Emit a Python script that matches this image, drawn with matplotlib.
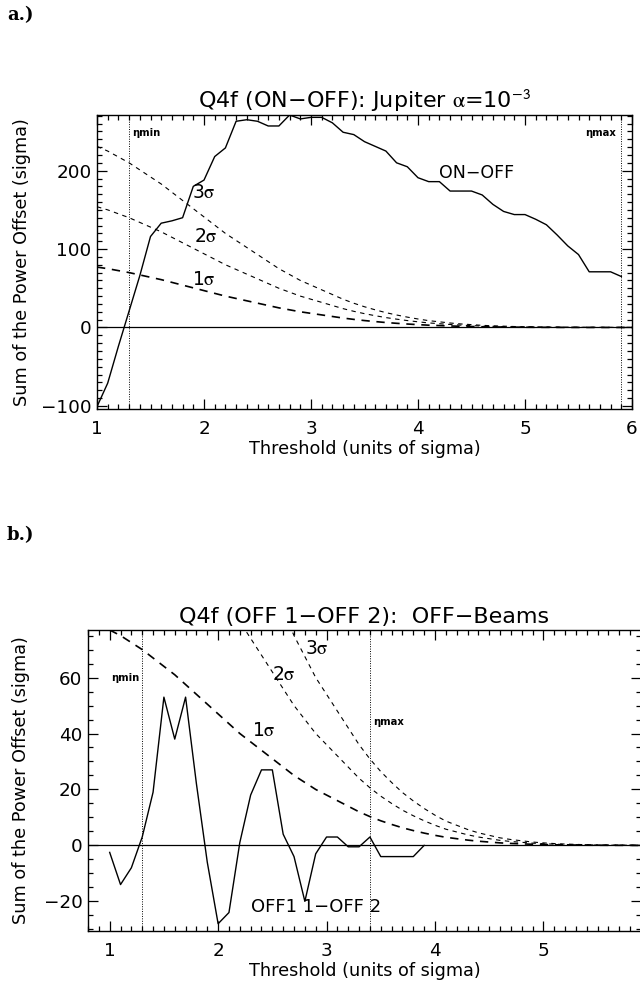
import numpy as np
import matplotlib.pyplot as plt
from matplotlib.ticker import MultipleLocator

plt.rcParams['font.family'] = ['DejaVu Sans']
plt.rcParams['mathtext.fontset'] = 'stix'

# thresholds (units of sigma)
thr_a = [1.0, 1.1, 1.2, 1.3, 1.4, 1.5, 1.6, 1.7, 1.8, 1.9,
         2.0, 2.1, 2.2, 2.3, 2.4, 2.5, 2.6, 2.7, 2.8, 2.9,
         3.0, 3.1, 3.2, 3.3, 3.4, 3.5, 3.6, 3.7, 3.8, 3.9,
         4.0, 4.1, 4.2, 4.3, 4.4, 4.5, 4.6, 4.7, 4.8, 4.9,
         5.0, 5.1, 5.2, 5.3, 5.4, 5.5, 5.6, 5.7, 5.8, 5.9]
on_off = [-101, -71, -24, 21, 66, 116, 133, 136, 140, 180,
          188, 218, 229, 263, 265, 263, 257, 257, 271, 266,
          268, 268, 261, 249, 246, 237, 231, 225, 210, 205,
          191, 186, 186, 174, 174, 174, 169, 157, 148, 144,
          144, 138, 131, 118, 104, 93, 71, 71, 71, 65]

thr_b = [1.0, 1.1, 1.2, 1.3, 1.4, 1.5, 1.6, 1.7, 1.8, 1.9,
         2.0, 2.1, 2.2, 2.3, 2.4, 2.5, 2.6, 2.7, 2.8, 2.9,
         3.0, 3.1, 3.2, 3.3, 3.4, 3.5, 3.6, 3.7, 3.8, 3.9]
off_off = [-2.5, -14, -8, 3, 19, 53, 38, 53, 22, -6,
           -28, -24, 1, 18, 27, 27, 4, -4, -20, -3,
           3, 3, -0.5, -0.5, 3, -4, -4, -4, -4, 0]

# 1 sigma noise level of the summed offset
thr_sig = [1.0, 1.1, 1.2, 1.3, 1.4, 1.5, 1.6, 1.7, 1.8, 1.9,
           2.0, 2.1, 2.2, 2.3, 2.4, 2.5, 2.6, 2.7, 2.8, 2.9,
           3.0, 3.1, 3.2, 3.3, 3.4, 3.5, 3.6, 3.7, 3.8, 3.9,
           4.0, 4.1, 4.2, 4.3, 4.4, 4.5, 4.6, 4.7, 4.8, 4.9,
           5.0, 5.1, 5.2, 5.3, 5.4, 5.5, 5.6, 5.7, 5.8, 5.9, 6.0]
sig1 = [77, 75, 72.5, 70, 67, 64, 61, 57.5, 54, 50.5,
        47, 43.5, 40, 37, 34, 31, 28, 25, 22.5, 20,
        18, 16, 14, 12, 10.3, 8.8, 7.5, 6.3, 5.3, 4.4,
        3.6, 2.9, 2.4, 1.9, 1.5, 1.2, 0.9, 0.7, 0.55, 0.4,
        0.3, 0.22, 0.16, 0.12, 0.08, 0.06, 0.04, 0.03, 0.02, 0.01, 0.01]

eta_a = (1.3, 5.9)
eta_b = (1.3, 3.4)

sig1 = np.array(sig1)
tick_size = 13.2
lbl_size = 12.7
sig_size = 13.5


def style_axes(ax, xmaj, xmin, ymaj, ymin):
    ax.xaxis.set_major_locator(MultipleLocator(xmaj))
    ax.xaxis.set_minor_locator(MultipleLocator(xmin))
    ax.yaxis.set_major_locator(MultipleLocator(ymaj))
    ax.yaxis.set_minor_locator(MultipleLocator(ymin))
    ax.tick_params(which='both', direction='in', top=True, right=True, width=0.9)
    ax.tick_params(which='major', length=7.5, labelsize=tick_size)
    ax.tick_params(which='minor', length=3.8)
    ax.tick_params(axis='x', pad=8)
    ax.tick_params(axis='y', pad=4)
    for s in ax.spines.values():
        s.set_linewidth(1.0)
    ax.set_xlabel("Threshold (units of sigma)", fontsize=lbl_size, labelpad=1)
    ax.set_ylabel("Sum of the Power Offset (sigma)", fontsize=lbl_size)


def sigma_curves(ax):
    ax.plot(thr_sig, sig1, color='black', lw=1.2, dashes=(5, 4))
    ax.plot(thr_sig, 2 * sig1, color='black', lw=0.8, dashes=(4, 4))
    ax.plot(thr_sig, 3 * sig1, color='black', lw=0.8, dashes=(4, 4))


fig = plt.figure(figsize=(6.4, 9.9), dpi=100)
fig.text(0.011, 1 - 15 / 990, "a.)", family='DejaVu Serif', weight='bold',
         fontsize=13, va='center')
fig.text(0.011, 1 - 535 / 990, "b.)", family='DejaVu Serif', weight='bold',
         fontsize=13, va='center')

# ---- panel a
ax1 = fig.add_axes([97 / 640, 1 - 409 / 990, 535 / 640, 294 / 990])
ax1.plot(thr_a, on_off, color='black', lw=1.0)
sigma_curves(ax1)
ax1.axhline(0, color='black', lw=0.9)
for e in eta_a:
    ax1.axvline(e, color='black', lw=0.7, ls=(0, (1, 1.5)))
ax1.set_xlim(1, 6.0)
ax1.set_ylim(-104, max(on_off))
style_axes(ax1, 1, 0.1, 100, 10)
ax1.yaxis.set_label_coords(-0.123, 0.5)
ax1.set_title(r"Q4f (ON−OFF): Jupiter $\mathrm{\alpha}$=10$^{\mathsf{-3}}$",
              fontsize=16, pad=5)
ax1.text(1.33, 248, "ηmin", fontsize=7.2, weight='bold', va='center')
ax1.text(5.85, 248, "ηmax", fontsize=7.2, weight='bold', va='center', ha='right')
ax1.text(4.2, 197, "ON−OFF", fontsize=12.5, va='center')
ax1.text(1.89, 172, r"3$\mathrm{\sigma}$", fontsize=sig_size, va='center')
ax1.text(1.91, 116, r"2$\mathrm{\sigma}$", fontsize=sig_size, va='center')
ax1.text(1.89, 61, r"1$\mathrm{\sigma}$", fontsize=sig_size, va='center')

# ---- panel b
ax2 = fig.add_axes([88 / 640, 1 - 931 / 990, 553 / 640, 301 / 990])
ax2.plot(thr_b, off_off, color='black', lw=1.0)
sigma_curves(ax2)
ax2.axhline(0, color='black', lw=0.9)
for e in eta_b:
    ax2.axvline(e, color='black', lw=0.7, ls=(0, (1, 1.5)))
ax2.set_xlim(0.8, 5.9)
ax2.set_ylim(-30.6, sig1[0])
style_axes(ax2, 1, 0.1, 20, 5)
ax2.yaxis.set_label_coords(-0.105, 0.5)
ax2.set_title("Q4f (OFF 1−OFF 2):  OFF−Beams", fontsize=16, pad=5)
ax2.text(1.27, 60, "ηmin", fontsize=7.2, weight='bold', va='center', ha='right')
ax2.text(3.43, 44, "ηmax", fontsize=7.2, weight='bold', va='center')
ax2.text(2.80, 70.5, r"3$\mathrm{\sigma}$", fontsize=sig_size, va='center')
ax2.text(2.50, 61, r"2$\mathrm{\sigma}$", fontsize=sig_size, va='center')
ax2.text(2.31, 41, r"1$\mathrm{\sigma}$", fontsize=sig_size, va='center')
ax2.text(2.30, -22, "OFF1 1−OFF 2", fontsize=13, va='center')

fig.savefig("out.png", dpi=100)
